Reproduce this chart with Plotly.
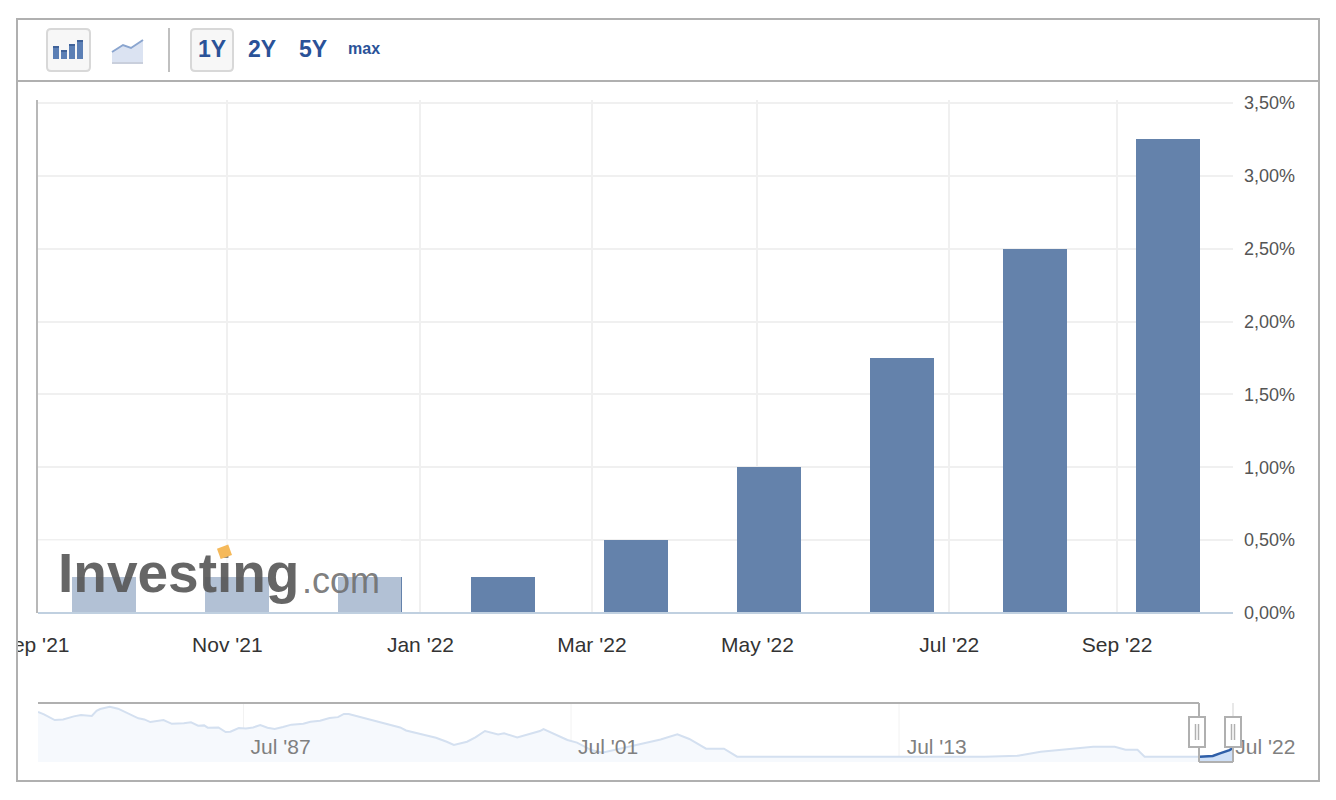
from datetime import date

import numpy as np
import plotly.graph_objects as go

# Page is 1336x800, the browser keeps 8px of body margin round the figure
WIDTH: int = 1320
HEIGHT: int = 784

# Rate decisions shown as bars (axis is ordinal, one slot per meeting)
meeting_dates = [
    date(2021, 9, 22), date(2021, 11, 3), date(2021, 12, 15),
    date(2022, 1, 26), date(2022, 3, 16), date(2022, 5, 4),
    date(2022, 6, 15), date(2022, 7, 27), date(2022, 9, 21),
]
rates = [0.25, 0.25, 0.25, 0.25, 0.50, 1.00, 1.75, 2.50, 3.25]

tick_dates = [
    date(2021, 9, 1), date(2021, 11, 1), date(2022, 1, 1), date(2022, 3, 1),
    date(2022, 5, 1), date(2022, 7, 1), date(2022, 9, 1),
]
tick_labels = ["Sep '21", "Nov '21", "Jan '22", "Mar '22", "May '22", "Jul '22", "Sep '22"]

# Overview strip, position in % of the strip width and rate
nav_pos = [
    0, 0.5, 1.4, 2.1, 3.0, 3.6, 4.5, 4.9, 5.2, 6.0, 6.7, 7.5, 8.4, 8.9, 9.4,
    10.5, 11.2, 12.2, 12.8, 13.4, 13.9, 14.2, 15.1, 15.7, 16.1, 16.8, 17.4,
    18.0, 18.6, 19.2, 19.8, 20.5, 21.2, 22.2, 22.8, 23.6, 24.4, 25.1, 25.6,
    26.0, 27.9, 30.3, 30.8, 33.3, 34.2, 34.8, 35.9, 36.6, 37.4, 38.5, 39.0,
    40.1, 42.0, 42.3, 44.3, 45.1, 46.3, 47.2, 52.1, 53.5, 54.5, 55.9, 57.4,
    58.5, 79.2, 82.0, 83.9, 88.3, 90.1, 91.0, 92.0, 92.6, 97.2,
]
nav_rate = [
    15.65, 14.85, 12.9, 13.1, 14.15, 14.6, 14.3, 16.1, 16.7, 17.5, 16.8, 15.2,
    13.5, 13.1, 12.2, 12.9, 11.6, 11.75, 12.1, 10.95, 11.05, 10.25, 10.35,
    8.75, 8.85, 10.15, 10.0, 10.35, 11.15, 10.25, 9.8, 10.5, 11.3, 11.6, 12.3,
    12.65, 13.6, 13.9, 15.0, 15.0, 12.9, 10.35, 9.3, 6.8, 5.4, 4.3, 5.4, 6.9,
    9.1, 7.95, 8.3, 6.9, 9.1, 9.8, 6.0, 5.1, 2.55, 1.6, 6.2, 7.95, 6.35, 3.0,
    3.0, 0.25, 0.25, 0.6, 1.95, 3.7, 3.7, 2.65, 2.65, 0.25, 0.25,
]
sel_pos = [97.2, 98.3, 98.9, 99.7, 100]
sel_rate = [0.25, 0.5, 1.4, 2.5, 3.25]

nav_label_pos = [20.3, 47.7, 75.2, 102.7]
nav_labels = ["Jul '87", "Jul '01", "Jul '13", "Jul '22"]
nav_grid_pos = [17.2, 44.6, 72.05]

BAR_COLOR = "#6482ab"
BLUE_TEXT = "#2a5298"
BORDER = "#b0b0b0"
GRID = "#f0f0f0"
FONT = "Liberation Sans"


def X(px: float) -> float:
    return (px - 8) / WIDTH


def Y(px: float) -> float:
    return 1 - (px - 8) / HEIGHT


def rect(x0, y0, x1, y1, **kw) -> dict:
    return dict(type="rect", xref="paper", yref="paper",
                x0=X(x0), y0=Y(y0), x1=X(x1), y1=Y(y1), **kw)


def hline(x0, x1, y, color, width=2) -> dict:
    return dict(type="line", xref="paper", yref="paper", x0=X(x0), x1=X(x1),
                y0=Y(y), y1=Y(y), line=dict(color=color, width=width))


def vline(x, y0, y1, color, width=2) -> dict:
    return dict(type="line", xref="paper", yref="paper", x0=X(x), x1=X(x),
                y0=Y(y0), y1=Y(y1), line=dict(color=color, width=width))


def poly(points, **kw) -> dict:
    d = "M" + " L".join(f"{X(a):.5f},{Y(b):.5f}" for a, b in points) + " Z"
    return dict(type="path", xref="paper", yref="paper", path=d, **kw)


def button(x0, y0, x1, y1, r=4) -> dict:
    # toolbar button, rectangle with rounded corners
    p = lambda a, b: f"{X(a):.5f},{Y(b):.5f}"
    d = (f"M{p(x0 + r, y0)} L{p(x1 - r, y0)} Q{p(x1, y0)} {p(x1, y0 + r)} "
         f"L{p(x1, y1 - r)} Q{p(x1, y1)} {p(x1 - r, y1)} "
         f"L{p(x0 + r, y1)} Q{p(x0, y1)} {p(x0, y1 - r)} "
         f"L{p(x0, y0 + r)} Q{p(x0, y0)} {p(x0 + r, y0)} Z")
    return dict(type="path", xref="paper", yref="paper", path=d,
                fillcolor="#f7f7f7", line=dict(color="#d8d8d8", width=2))


# Highcharts style ordinal axis: dates are placed between the meeting slots
meeting_days = np.array([d.toordinal() for d in meeting_dates])
tick_days = np.array([d.toordinal() for d in tick_dates])
tick_pos = np.interp(tick_days, meeting_days, np.arange(len(meeting_days)))
tick_pos[0] = (tick_days[0] - meeting_days[0]) / 42
tick_pos = tick_pos - 0.025

fig = go.Figure()
fig.add_trace(go.Bar(
    x=list(range(len(rates))), y=rates, width=0.485,
    marker=dict(color=BAR_COLOR, line=dict(width=0)),
    xaxis="x", yaxis="y", showlegend=False,
))

# Overview strip: a floor trace so the fill reaches the bottom of the strip
NAV_FLOOR = -1.58
for pos, vals, line_c, fill_c, w in [
    (nav_pos, nav_rate, "#d4e0f0", "#f6f9fd", 2),
    (sel_pos, sel_rate, "#2f5fa8", "#cfe0f7", 2.5),
]:
    fig.add_trace(go.Scatter(
        x=[pos[0], pos[-1]], y=[NAV_FLOOR, NAV_FLOOR], mode="lines",
        line=dict(width=0), xaxis="x2", yaxis="y2", showlegend=False,
    ))
    fig.add_trace(go.Scatter(
        x=pos, y=vals, mode="lines", fill="tonexty", fillcolor=fill_c,
        line=dict(color=line_c, width=w), xaxis="x2", yaxis="y2", showlegend=False,
    ))

shapes = []

# Toolbar
shapes.append(button(47, 29, 90, 71))
shapes.append(button(191, 29, 233, 71))
for x0, x1, top in [(53, 59, 46), (61, 67, 50), (69, 75, 44), (77, 83, 40)]:
    shapes.append(rect(x0, top, x1, 59, fillcolor="#5b7fb5", line=dict(width=0)))
    shapes.append(rect(x0, top, x1, top + 2, fillcolor="#3f6299", line=dict(width=0)))
shapes.append(poly([(112, 52), (123, 45), (131, 48), (143, 40), (143, 62), (112, 62)],
                   fillcolor="#dbe3f2", line=dict(width=0)))
shapes.append(dict(type="path", xref="paper", yref="paper",
                   path="M" + " L".join(f"{X(a):.5f},{Y(b):.5f}" for a, b in
                                        [(112, 52), (123, 45), (131, 48), (143, 40)]),
                   line=dict(color="#8aa5cf", width=2)))
shapes.append(hline(112, 143, 63, "#c9cfdc"))
shapes.append(vline(169, 28, 72, "#c0c0c0"))

# Plot frame, the first x gridline sits left of the axis so it gets covered
shapes.append(rect(18, 100, 37, 613, fillcolor="white", line=dict(width=0), layer="above"))
shapes.append(vline(37, 100, 613, "#b8b8b8"))
shapes.append(hline(38, 1233, 613, "#c0d0e0"))

# Watermark wash over the bars
shapes.append(rect(38, 540, 401, 612, fillcolor="rgba(255,255,255,0.5)", line=dict(width=0)))

# Overview gridlines
for g in nav_grid_pos:
    shapes.append(dict(type="line", xref="x2", yref="paper", x0=g, x1=g,
                       y0=Y(703), y1=Y(762), line=dict(color="#f2f2f2", width=1),
                       layer="below"))

# Selection outline and handles
shapes.append(hline(38, 1199, 703, BORDER))
shapes.append(vline(1199, 703, 762, BORDER))
shapes.append(hline(1199, 1233, 762, BORDER))
shapes.append(vline(1233, 717, 762, BORDER))
shapes.append(vline(1233, 703, 717, "#e8e8e8"))
for hx in (1189, 1225):
    shapes.append(rect(hx, 717, hx + 16, 747, fillcolor="white", line=dict(color=BORDER, width=2)))
    shapes.append(vline(hx + 6.5, 724, 740, BORDER, 1.5))
    shapes.append(vline(hx + 9.5, 724, 740, BORDER, 1.5))

# Clip the first tick label at the box, then the outer box and toolbar rule
shapes.append(rect(0, 620, 17, 665, fillcolor="white", line=dict(width=0)))
shapes.append(rect(17, 19, 1319, 781, line=dict(color=BORDER, width=2)))
shapes.append(hline(17, 1319, 81, BORDER))

annotations = []
for text, cx, size in [("1Y", 212, 23), ("2Y", 262, 23), ("5Y", 313, 23), ("max", 364, 16)]:
    annotations.append(dict(
        text=f"<b>{text}</b>", xref="paper", yref="paper", x=X(cx), y=Y(49),
        showarrow=False, xanchor="center", yanchor="middle",
        font=dict(family=FONT, size=size, color=BLUE_TEXT),
    ))

annotations.append(dict(
    text="<b>Investing</b>", xref="paper", yref="paper", x=X(56), y=Y(573),
    showarrow=False, xanchor="left", yanchor="middle",
    font=dict(family=FONT, size=55, color="rgba(85,85,85,0.9)"),
))
annotations.append(dict(
    text=".com", xref="paper", yref="paper", x=X(300), y=Y(580),
    showarrow=False, xanchor="left", yanchor="middle",
    font=dict(family=FONT, size=36, color="rgba(110,110,110,0.9)"),
))
annotations.append(dict(
    text=" ", xref="paper", yref="paper", x=X(224), y=Y(552),
    showarrow=False, xanchor="center", yanchor="middle", width=9, height=8,
    bgcolor="#f5b95a", textangle=-20, font=dict(size=6),
))

fig.update_layout(
    width=WIDTH, height=HEIGHT,
    margin=dict(l=0, r=0, t=0, b=0),
    paper_bgcolor="white", plot_bgcolor="white",
    autosize=False,
    separators=",.",
    showlegend=False,
    font=dict(family=FONT),
    bargap=0,
    shapes=shapes,
    annotations=annotations,
    xaxis=dict(
        domain=[X(33), X(1233)], range=[-0.534, 8.49], automargin=False,
        tickmode="array", tickvals=list(tick_pos), ticktext=tick_labels,
        tickfont=dict(family=FONT, size=21, color="#333333"),
        showgrid=True, gridcolor=GRID, gridwidth=2, zeroline=False,
        showline=False, ticks="", ticklabelstandoff=17, anchor="y",
        ticklabeloverflow="allow",
    ),
    yaxis=dict(
        domain=[Y(613), Y(100)], range=[0, 3.52], side="right", automargin=False,
        tickmode="linear", tick0=0, dtick=0.5, tickformat=".2f", ticksuffix="%",
        tickfont=dict(family=FONT, size=18, color="#555555"),
        showgrid=True, gridcolor=GRID, gridwidth=2, zeroline=False,
        showline=False, ticks="", ticklabelstandoff=10, anchor="x",
    ),
    xaxis2=dict(
        domain=[X(38), X(1300)], range=[0, 105.6], automargin=False,
        tickmode="array", tickvals=nav_label_pos, ticktext=nav_labels,
        tickfont=dict(family=FONT, size=21, color="#808080"),
        showgrid=False, zeroline=False, showline=False, ticks="",
        anchor="free", position=Y(732),
    ),
    yaxis2=dict(
        domain=[Y(762), Y(703)], range=[NAV_FLOOR, 18.77],
        visible=False, anchor="x2", automargin=False,
    ),
)

fig.write_html("out.html")
